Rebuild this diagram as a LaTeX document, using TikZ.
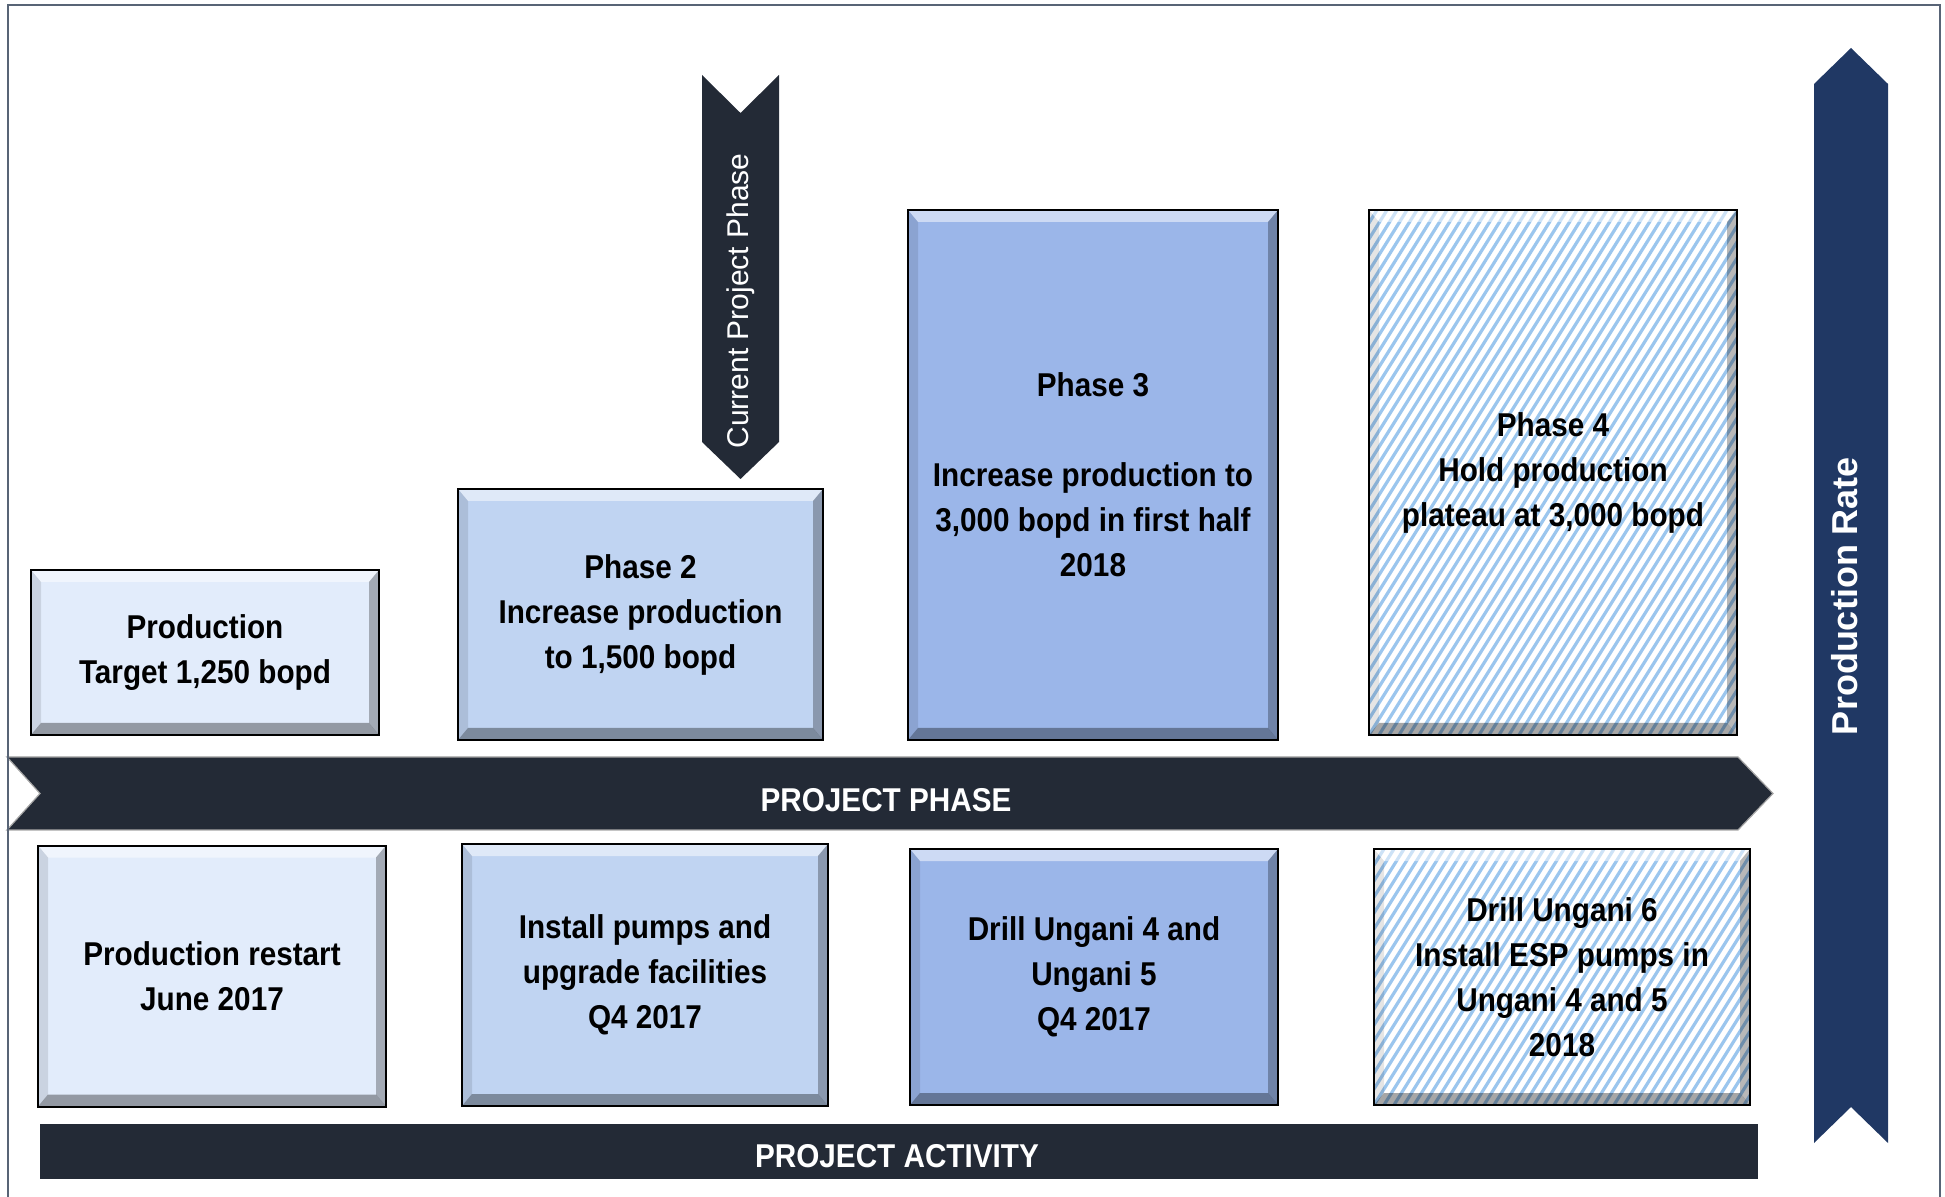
\documentclass[tikz,border=0pt]{standalone}
\usepackage{fontspec}
\setmainfont{Liberation Sans}
\newfontfamily\narrowfont[FakeStretch=0.9]{Liberation Sans}
\usetikzlibrary{calc}
\definecolor{bandgray}{RGB}{35,42,54}
\definecolor{rateblue}{RGB}{32,56,100}
\definecolor{framegray}{RGB}{88,100,118}
\definecolor{tintA}{RGB}{226,236,251}
\definecolor{tintB}{RGB}{192,212,242}
\definecolor{tintC}{RGB}{155,182,233}
\definecolor{hatchblue}{RGB}{155,198,238}
% bevelled edges of the boxes
\newcommand\bevelfill{
	\path (path picture bounding box.north west) coordinate (bv1)
		(path picture bounding box.north east) coordinate (bv2)
		(path picture bounding box.south east) coordinate (bv3)
		(path picture bounding box.south west) coordinate (bv4);
	\fill[white,opacity=.5] (bv1) -- (bv2) -- ([shift={(-5pt,-6pt)}]bv2) -- ([shift={(5pt,-6pt)}]bv1) -- cycle;
	\fill[black,opacity=.10] (bv1) -- ([shift={(5pt,-6pt)}]bv1) -- ([shift={(5pt,6pt)}]bv4) -- (bv4) -- cycle;
	\fill[black,opacity=.28] (bv2) -- (bv3) -- ([shift={(-5pt,6pt)}]bv3) -- ([shift={(-5pt,-6pt)}]bv2) -- cycle;
	\fill[black,opacity=.35] (bv4) -- (bv3) -- ([shift={(-5pt,6pt)}]bv3) -- ([shift={(5pt,6pt)}]bv4) -- cycle;
}
\tikzset{
	phasebox/.style={
			draw=black, line width=1pt, inner sep=0pt, align=center,
			font=\narrowfont\fontsize{16.5}{22.5}\selectfont\bfseries,
			path picture={\bevelfill}
		},
	hatchbox/.style={
			phasebox, fill=white,
			path picture={
					\foreach \k in {-40,...,40}
					\draw[hatchblue, line width=1.6pt] ([xshift=\k*5pt]path picture bounding box.south west) -- ++(58:420pt);
					\bevelfill
				}
		},
	bandtext/.style={text=white, font=\narrowfont\fontsize{16.5}{20}\selectfont\bfseries}
}

\begin{document}
\begin{tikzpicture}[x=0.5pt, y=-0.5pt]
	\useasboundingbox (0,0) rectangle (1945,1197);

	% bands and arrows
	\fill[bandgray] (702,75) -- (740.5,113) -- (779,75) -- (779,442) -- (740.5,479) -- (702,442) -- cycle;
	\fill[rateblue] (1814,84) -- (1851,48) -- (1888,84) -- (1888,1143) -- (1851,1107) -- (1814,1143) -- cycle;
	\filldraw[fill=bandgray, draw=gray!70, line width=0.6pt] (7,757) -- (1738,757) -- (1773,793.5) -- (1738,830) -- (7,830) -- (40,793.5) -- cycle;
	\fill[bandgray] (40,1124) rectangle (1758,1179);

	\node[text=white, rotate=90, font=\fontsize{15}{18}\selectfont] (current) at (741,301) {Current Project Phase};
	\node[text=white, rotate=90, font=\fontsize{18}{22}\selectfont\bfseries] (rate) at (1845,596) {Production Rate};
	\node[bandtext] (phaselabel) at (886,800) {PROJECT PHASE};
	\node[bandtext] (activitylabel) at (897,1156) {PROJECT ACTIVITY};

	% phases
	\node[phasebox, fill=tintA, minimum width=174pt, minimum height=82.5pt] (prodbox) at (205,652.5) {Production\\Target 1,250 bopd};
	\node[phasebox, fill=tintB, minimum width=182.5pt, minimum height=125.5pt] (phtwo) at (640.5,614.5) {Phase 2\\Increase production\\to 1,500 bopd};
	\node[phasebox, fill=tintC, minimum width=185pt, minimum height=265pt] (phthree) at (1093,475) {Phase 3\\~\\Increase production to\\3,000 bopd in first half\\2018};
	\node[hatchbox, minimum width=184pt, minimum height=262.5pt] (phfour) at (1553,472.5) {Phase 4\\Hold production\\plateau at 3,000 bopd};

	% activities
	\node[phasebox, fill=tintA, minimum width=174pt, minimum height=130.5pt] (restart) at (212,976) {Production restart\\June 2017};
	\node[phasebox, fill=tintB, minimum width=183pt, minimum height=131pt] (pumps) at (645,975) {Install pumps and\\upgrade facilities\\Q4 2017};
	\node[phasebox, fill=tintC, minimum width=184pt, minimum height=128pt] (drill) at (1094,977) {Drill Ungani 4 and\\Ungani 5\\Q4 2017};
	\node[hatchbox, minimum width=188pt, minimum height=128pt] (esp) at (1562,977) {Drill Ungani 6\\Install ESP pumps in\\Ungani 4 and 5\\2018};

	% frame
	\draw[framegray, line width=1pt] (7.5,1210) -- (7.5,5) -- (1940,5) -- (1940,1210);
\end{tikzpicture}
\end{document}
